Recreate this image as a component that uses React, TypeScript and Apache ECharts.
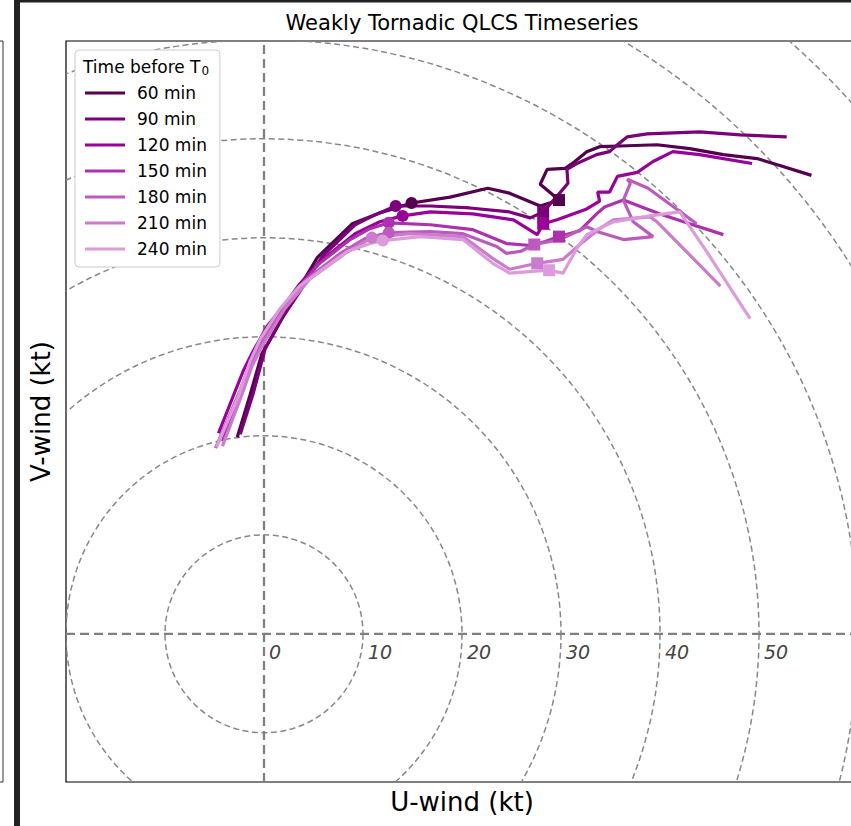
import React, { useEffect, useRef } from "react";
import * as echarts from "echarts";

const seriesNames = ["60 min", "90 min", "120 min", "150 min", "180 min", "210 min", "240 min"];
const seriesColors = ["#55004f", "#7d007b", "#990099", "#ad30ad", "#bd5abd", "#cb7bcb", "#dc9cdc"];

const hodo60 = [[-2.7, 19.9], [-1.4, 24.2], [-0.2, 28.4], [1.1, 30.6], [2.9, 33.9], [5.4, 38.1], [8.9, 41.5], [11.7, 42.6], [14.9, 43.6], [18.8, 44.2], [22.6, 45.1], [24.8, 44.6], [27.9, 43.3], [29.8, 43.9], [27.9, 45.5], [28.6, 47.0], [30.4, 47.1], [31.4, 47.8], [32.6, 48.8], [33.9, 49.3], [36.7, 49.4], [39.7, 49.5], [43.0, 49.1], [46.4, 48.5], [49.8, 48.1], [52.1, 47.4], [55.3, 46.4]];
const hodo90 = [[-2.4, 20.2], [-1.1, 24.3], [0.1, 28.8], [1.6, 31.6], [3.6, 34.6], [5.9, 38.2], [9.2, 41.4], [11.2, 42.4], [13.3, 43.3], [16.8, 43.3], [20.8, 43.1], [24.8, 42.7], [26.9, 42.1], [28.2, 42.7], [29.7, 44.4], [30.7, 45.6], [30.6, 47.0], [31.6, 47.6], [33.6, 48.5], [34.9, 48.8], [35.7, 49.5], [36.7, 50.3], [38.7, 50.6], [44.0, 50.8], [48.1, 50.5], [52.8, 50.3]];
const hodo120 = [[-4.6, 20.3], [-2.1, 26.6], [-1.1, 28.6], [0.3, 31.1], [2.3, 33.6], [3.6, 35.4], [5.7, 37.7], [9.2, 40.5], [11.7, 41.7], [14.0, 42.3], [16.8, 42.7], [21.1, 42.5], [25.2, 41.9], [27.6, 40.4], [28.2, 41.5], [29.6, 41.9], [32.6, 43.0], [33.9, 43.8], [33.7, 44.7], [34.9, 44.7], [35.7, 46.3], [37.7, 46.7], [39.3, 47.8], [41.3, 48.8], [44.0, 48.5], [49.3, 47.6]];
const hodo150 = [[-4.2, 19.5], [-1.9, 25.8], [-0.8, 28.4], [0.6, 30.8], [2.8, 34.1], [5.5, 37.4], [8.7, 39.9], [10.7, 41.0], [12.6, 41.6], [16.8, 41.4], [21.1, 40.9], [24.5, 39.5], [26.9, 39.3], [28.4, 39.7], [29.8, 40.2], [31.9, 40.8], [33.6, 42.5], [34.4, 43.2], [36.3, 43.9], [40.0, 42.5], [43.3, 41.4], [46.4, 40.4]];
const hodo180 = [[-4.9, 18.8], [-2.4, 24.7], [-1.4, 27.4], [-0.2, 29.6], [1.8, 32.8], [4.1, 35.7], [7.7, 38.5], [10.2, 40.0], [12.6, 40.6], [16.8, 40.7], [20.1, 40.5], [23.5, 39.2], [24.5, 38.5], [25.9, 38.7], [27.3, 39.4], [29.9, 39.9], [32.6, 41.2], [33.7, 40.7], [36.3, 39.9], [39.3, 40.2], [37.3, 41.7], [36.3, 43.9], [37.0, 45.6], [36.7, 46.0], [38.8, 45.1], [43.7, 41.5]];
const hodo210 = [[-4.2, 19.0], [-2.2, 24.3], [-1.2, 27.1], [-0.1, 29.3], [2.1, 32.9], [4.6, 35.9], [8.2, 38.5], [10.9, 40.1], [14.7, 40.5], [20.1, 40.2], [23.1, 38.0], [24.8, 36.9], [27.6, 37.5], [30.2, 37.9], [31.9, 39.4], [33.9, 41.0], [35.3, 41.9], [39.0, 42.2], [39.7, 41.7], [46.1, 35.2]];
const hodo240 = [[-4.8, 18.9], [-2.6, 24.0], [-1.4, 27.6], [-0.4, 29.8], [1.6, 32.9], [3.6, 35.2], [8.4, 38.7], [10.7, 39.5], [12.0, 39.8], [15.8, 40.2], [20.1, 39.9], [23.1, 37.5], [24.8, 36.5], [28.8, 36.8], [30.2, 36.5], [31.6, 39.0], [32.6, 40.4], [35.3, 41.7], [39.0, 42.3], [42.0, 42.7], [44.7, 38.7], [49.1, 31.9]];

const circleMarkers = [[14.9, 43.6], [13.3, 43.3], [14.0, 42.3], [12.6, 41.6], [12.6, 40.6], [10.9, 40.1], [12.0, 39.8]];
const squareMarkers = [[29.8, 43.9], [28.2, 42.7], [28.2, 41.5], [29.8, 40.2], [27.3, 39.4], [27.6, 37.5], [28.8, 36.8]];

const ringRadii = [10, 20, 30, 40, 50, 60, 70, 80, 90];
const ringLabels = [0, 10, 20, 30, 40, 50];

const xMin = -20;
const xMax = 60;
const yMin = -15;
const yMax = 60;

const FONT = "DejaVu Sans";

export default function App() {
  const ref = useRef<HTMLDivElement>(null);

  useEffect(() => {
    const chart = echarts.init(ref.current as HTMLDivElement, undefined, { renderer: "svg" });
    const hodos = [hodo60, hodo90, hodo120, hodo150, hodo180, hodo210, hodo240];

    const series: any[] = [];

    series.push({
      type: "custom",
      coordinateSystem: "cartesian2d",
      clip: true,
      silent: true,
      z: 1,
      data: ringRadii.map((r) => [0, 0, r]),
      encode: { x: 0, y: 1 },
      renderItem: (params: any, api: any) => {
        const c = api.coord([0, 0]);
        const r = api.size([api.value(2), 0])[0];
        return {
          type: "circle",
          shape: { cx: c[0], cy: c[1], r },
          style: { fill: "none", stroke: "#888888", lineWidth: 1.5, lineDash: [6, 3.5] },
        };
      },
    });

    series.push({
      type: "line",
      silent: true,
      z: 1,
      symbol: "none",
      data: [[0, yMin], [0, yMax]],
      lineStyle: { color: "#808080", width: 2.3, type: [9, 5] },
    });
    series.push({
      type: "line",
      silent: true,
      z: 1,
      symbol: "none",
      data: [[xMin, 0], [xMax, 0]],
      lineStyle: { color: "#808080", width: 2.3, type: [9, 5] },
    });

    series.push({
      type: "custom",
      coordinateSystem: "cartesian2d",
      silent: true,
      z: 1,
      data: ringLabels.map((r) => [r, 0]),
      encode: { x: 0, y: 1 },
      renderItem: (params: any, api: any) => {
        const c = api.coord([api.value(0), 0]);
        return {
          type: "text",
          x: c[0] + 5,
          y: c[1] + 9,
          style: {
            text: String(api.value(0)),
            fill: "#444444",
            font: `italic 19px "${FONT}"`,
            align: "left",
            verticalAlign: "top",
          },
        };
      },
    });

    hodos.forEach((d, i) => {
      series.push({
        name: seriesNames[i],
        type: "line",
        data: d,
        symbol: "none",
        z: 2,
        color: seriesColors[i],
        lineStyle: { color: seriesColors[i], width: 3.2 },
      });
    });

    hodos.forEach((d, i) => {
      series.push({
        name: seriesNames[i],
        type: "scatter",
        z: 3,
        color: seriesColors[i],
        itemStyle: { color: seriesColors[i], opacity: 1 },
        data: [
          { value: circleMarkers[i], symbol: "circle", symbolSize: 12 },
          { value: squareMarkers[i], symbol: "rect", symbolSize: 12 },
        ],
      });
    });

    chart.setOption({
      animation: false,
      grid: {
        left: 66,
        top: 41,
        width: 792,
        height: 741,
        show: true,
        borderColor: "#000000",
        borderWidth: 1.2,
        backgroundColor: "transparent",
        containLabel: false,
      },
      xAxis: {
        type: "value",
        min: xMin,
        max: xMax,
        name: "U-wind (kt)",
        nameLocation: "middle",
        nameGap: 7,
        nameTextStyle: { fontFamily: FONT, fontSize: 26, color: "#000000", verticalAlign: "top" },
        axisLine: { show: false },
        axisTick: { show: false },
        axisLabel: { show: false },
        splitLine: { show: false },
      },
      yAxis: {
        type: "value",
        min: yMin,
        max: yMax,
        name: "V-wind (kt)",
        nameLocation: "middle",
        nameRotate: 90,
        nameGap: 12,
        nameTextStyle: { fontFamily: FONT, fontSize: 26, color: "#000000" },
        axisLine: { show: false },
        axisTick: { show: false },
        axisLabel: { show: false },
        splitLine: { show: false },
      },
      legend: {
        data: seriesNames,
        orient: "vertical",
        left: 75,
        top: 50,
        icon: "rect",
        itemWidth: 40,
        itemHeight: 3,
        itemGap: 6,
        padding: [33, 13, 8, 10],
        backgroundColor: "#ffffff",
        borderColor: "#cccccc",
        borderWidth: 1,
        borderRadius: 4,
        selectedMode: false,
        textStyle: { fontFamily: FONT, fontSize: 17, color: "#000000", lineHeight: 20, padding: [0, 0, 0, 7] },
      },
      graphic: [
        {
          type: "text",
          x: 462,
          y: 12,
          style: {
            text: "Weakly Tornadic QLCS Timeseries",
            font: `21px "${FONT}"`,
            fill: "#000000",
            align: "center",
            verticalAlign: "top",
          },
          z: 10,
        },
        {
          type: "text",
          x: 83,
          y: 57,
          z: 100,
          style: {
            text: "{a|Time before T}{s|0}",
            rich: {
              a: { fontFamily: FONT, fontSize: 17, fill: "#000000", lineHeight: 20 },
              s: { fontFamily: FONT, fontSize: 12, fill: "#000000", lineHeight: 20, verticalAlign: "bottom", padding: [7, 0, 0, 1] },
            },
          },
        },
        { type: "rect", shape: { x: 14, y: 0, width: 6, height: 826 }, style: { fill: "#222222" }, z: 50 },
        { type: "rect", shape: { x: 20, y: 0, width: 860, height: 2.5 }, style: { fill: "#222222" }, z: 50 },
        { type: "line", shape: { x1: 3, y1: 41, x2: 3, y2: 782 }, style: { stroke: "#333333", lineWidth: 1 }, z: 50 },
        { type: "line", shape: { x1: 0, y1: 41, x2: 3, y2: 41 }, style: { stroke: "#333333", lineWidth: 1 }, z: 50 },
        { type: "line", shape: { x1: 0, y1: 782, x2: 3, y2: 782 }, style: { stroke: "#333333", lineWidth: 1 }, z: 50 },
      ],
      series,
    });

    return () => chart.dispose();
  }, []);

  return (
    <div style={{ position: "fixed", left: 0, top: 0, width: 851, height: 826, overflow: "hidden", background: "#ffffff" }}>
      <div ref={ref} style={{ width: 880, height: 826 }} />
    </div>
  );
}
